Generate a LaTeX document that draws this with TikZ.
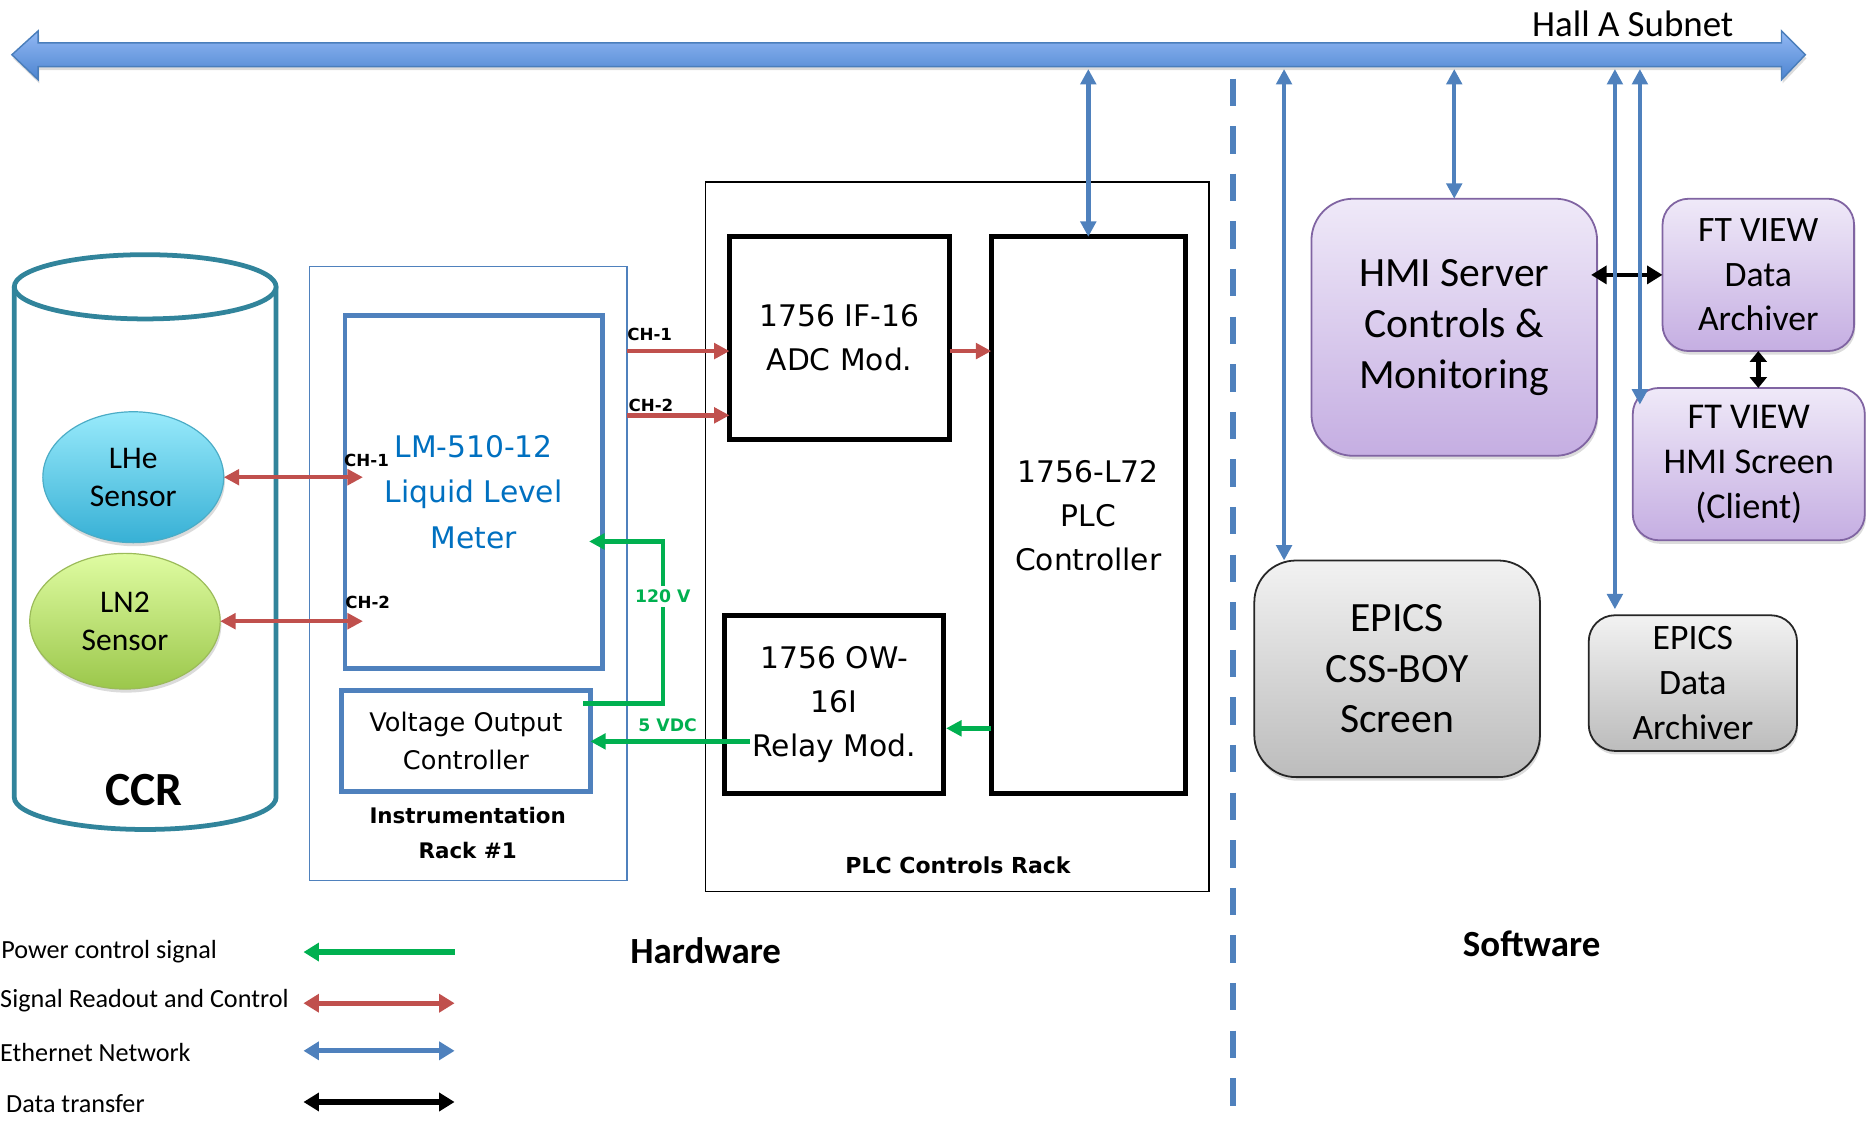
\documentclass[tikz,border=0pt]{standalone}
\usepackage{fontspec}
\setmainfont{Carlito}
\newfontfamily\vfont{DejaVu Sans}
\usetikzlibrary{arrows.meta,calc,shadows,shapes.geometric}
\newcommand\setfs[2]{\fontsize{#1}{#2}\selectfont}
\definecolor{ethc}{HTML}{4F81BD}
\definecolor{busT}{HTML}{92B8F4}
\definecolor{busB}{HTML}{4D85D0}
\definecolor{busE}{HTML}{4A7EBB}
\definecolor{redc}{HTML}{C0504D}
\definecolor{grnc}{HTML}{00B050}
\definecolor{lmtext}{HTML}{0070C0}
\definecolor{ccrc}{HTML}{31849B}
\definecolor{purE}{HTML}{8064A2}
\definecolor{purT}{HTML}{EFE9F8}
\definecolor{purB}{HTML}{C5AEE2}
\definecolor{gryT}{HTML}{F2F2F2}
\definecolor{gryB}{HTML}{BCBCBC}
\definecolor{cyT}{HTML}{98EAFB}
\definecolor{cyB}{HTML}{37B0D5}
\definecolor{cyE}{HTML}{4BACC6}
\definecolor{gnT}{HTML}{DFFCA2}
\definecolor{gnB}{HTML}{9BC74B}
\definecolor{gnE}{HTML}{9BBB59}
\begin{document}
\begin{tikzpicture}[x=1pt,y=-1pt,
  >={Triangle[length=13pt,width=13pt]},
  shd/.style={drop shadow={opacity=0.28,shadow xshift=1pt,shadow yshift=-3pt}},
  hwbox/.style={draw=black,line width=4pt,inner sep=0pt,outer sep=0pt,align=center,font=\vfont\setfs{25}{37}},
  rack/.style={line width=1.2pt,inner sep=0pt,outer sep=0pt},
  lmbox/.style={draw=ethc,line width=4pt,inner sep=0pt,outer sep=0pt,align=center},
  purbox/.style={shd,draw=purE,line width=1.5pt,top color=purT,bottom color=purB,inner sep=0pt,outer sep=0pt,align=center},
  grybox/.style={shd,draw=black!85,line width=1.5pt,top color=gryT,bottom color=gryB,inner sep=0pt,outer sep=0pt,align=center},
  sensor/.style={shd,ellipse,line width=1pt,inner sep=0pt,outer sep=0pt,align=center,font=\setfs{26.5}{32}},
  redarr/.style={draw=redc,line width=3.7pt},
  garr/.style={draw=grnc,line width=3.7pt},
  eth/.style={draw=ethc,line width=3.7pt},
  blk/.style={draw=black,line width=3.7pt,>={Triangle[length=13pt,width=15pt]}},
  leg/.style={line width=4.3pt,>={Triangle[length=13pt,width=15pt]}},
  chl/.style={font=\vfont\bfseries\setfs{14}{16},inner sep=0pt},
  glab/.style={text=grnc,fill=white,font=\vfont\bfseries\setfs{14.5}{16},inner sep=3pt},
  lgt/.style={font=\setfs{22}{26},inner sep=0pt,anchor=west},
  big/.style={font=\bfseries\setfs{31}{36}}
]
\useasboundingbox (0,0) rectangle (1568,944);

% ---- Hall A Subnet bus
\path[shd,top color=busT,bottom color=busB,draw=busE,line width=1.2pt]
  (10,46) -- (32,26) -- (32,36) -- (1497,36) -- (1497,26) -- (1517,46) -- (1497,67) -- (1497,56) -- (32,56) -- (32,67) -- cycle;
\coordinate (busb) at (0,58);
\node[font=\setfs{31}{37}] (hall) at (1372,20) {Hall A Subnet};

% ---- divider
\coordinate (divtop) at (1036,66);
\coordinate (divbot) at (1036,944);
\draw[ethc,line width=4.5pt,dash pattern=on 23pt off 17pt] (divtop) -- (divbot);

% ---- CCR cylinder
\fill[white] (12,241) -- (12,670) arc[start angle=180,end angle=0,x radius=110,y radius=27] -- (232,241) -- cycle;
\draw[ccrc,line width=4pt] (12,241) -- (12,670) arc[start angle=180,end angle=0,x radius=110,y radius=27] -- (232,241);
\draw[ccrc,line width=4pt,fill=white] (122,241) ellipse[x radius=110,y radius=27];
\node[font=\bfseries\setfs{40}{44}] (ccr) at (121,664) {CCR};

\node[sensor,draw=cyE,top color=cyT,bottom color=cyB,minimum width=152pt,minimum height=110pt] (lhe) at (112,401) {LHe\\Sensor};
\node[sensor,draw=gnE,top color=gnT,bottom color=gnB,minimum width=160pt,minimum height=114pt] (ln2) at (105,522) {LN2\\Sensor};

% ---- Instrumentation rack
\node[rack,draw=ethc,minimum width=267pt,minimum height=516pt] (irack) at (393.5,482) {};
\node[lmbox,minimum width=216pt,minimum height=297pt,text=lmtext,font=\vfont\setfs{25}{38}] (lm) at (398,413.5) {LM-510-12\\Liquid Level\\Meter};
\node[lmbox,minimum width=209pt,minimum height=85pt,font=\vfont\setfs{21.5}{32}] (voc) at (391.5,622.5) {Voltage Output\\Controller};
\node[font=\vfont\bfseries\setfs{18}{29},align=center] (irlab) at (393,700) {Instrumentation\\Rack \#1};

% ---- PLC rack
\node[rack,draw=black,minimum width=423pt,minimum height=596pt] (prack) at (804.5,451) {};
\node[hwbox,minimum width=185pt,minimum height=170pt] (adc) at (705.5,284) {1756 IF-16\\ADC Mod.};
\node[hwbox,minimum width=184pt,minimum height=150pt] (relay) at (701,592) {1756 OW-\\16I\\Relay Mod.};
\node[hwbox,minimum width=163pt,minimum height=468pt] (plc) at (914.5,433) {1756-L72\\PLC\\Controller};
\node[font=\vfont\bfseries\setfs{18.5}{22}] (prlab) at (805,727) {PLC Controls Rack};

% ---- Software boxes
\node[purbox,rounded corners=35pt,minimum width=240pt,minimum height=216pt,font=\setfs{35}{43}] (hmi) at (1222,275) {HMI Server\\Controls \&\\Monitoring};
\node[purbox,rounded corners=22pt,minimum width=161pt,minimum height=128pt,font=\setfs{30}{37.5}] (ftda) at (1477.5,231) {FT VIEW\\Data\\Archiver};
\node[purbox,rounded corners=22pt,minimum width=195pt,minimum height=128pt,font=\setfs{30.5}{38}] (fthmi) at (1469.5,390) {FT VIEW\\HMI Screen\\(Client)};
\node[grybox,rounded corners=35pt,minimum width=240pt,minimum height=182pt,font=\setfs{35}{42.5}] (epicsboy) at (1174,562) {EPICS\\CSS-BOY\\Screen};
\node[grybox,rounded corners=22pt,minimum width=175pt,minimum height=114pt,font=\setfs{30}{38}] (epicsda) at (1422.5,574) {EPICS\\Data\\Archiver};

% ---- red signal connectors
\draw[redarr,<->] (lhe.east) -- ($(lm.west|-lhe.east)+(15,0)$);
\draw[redarr,<->] (ln2.east) -- ($(lm.west|-ln2.east)+(15,0)$);
\coordinate (ch1y) at (0,295);
\coordinate (ch2y) at (0,349);
\draw[redarr,->] (irack.east|-ch1y) -- (adc.west|-ch1y);
\draw[redarr,->] (irack.east|-ch2y) -- (adc.west|-ch2y);
\draw[redarr,->] (adc.east|-ch1y) -- (plc.west|-ch1y);
\node[chl,anchor=west] (lch1) at (527,281) {CH-1};
\node[chl,anchor=west] (lch2) at (528,341) {CH-2};
\node[chl,anchor=west] (mch1) at (289,387) {CH-1};
\node[chl,anchor=west] (mch2) at (290,506) {CH-2};

% ---- green power connectors
\node[glab] (v120) at (557,501) {120 V};
\draw[garr] ($(voc.north east)+(-6,11)$) -| (v120.south);
\draw[garr,->] (v120.north) |- ($(lm.east)+(-11,41.5)$);
\coordinate (g5) at (630,623);
\draw[garr,->] (g5) -- (voc.east|-g5);
\node[glab,fill=none,inner sep=0pt] (v5) at (561,609) {5 VDC};
\coordinate (g6) at (0,612);
\draw[garr,->] (plc.west|-g6) -- ($(relay.east|-g6)+(2,0)$);

% ---- data transfer
\draw[blk,<->] ($(hmi.east|-ftda.west)+(-5,0)$) -- (ftda.west);
\draw[blk,>={Triangle[length=9pt,width=14pt]},<->] (ftda.south) -- (ftda.south|-fthmi.north);

% ---- ethernet connectors
\draw[eth,<->] (plc.north|-busb) -- (plc.north);
\coordinate (e2) at (1079,0);
\draw[eth,<->] (e2|-busb) -- (e2|-epicsboy.north);
\draw[eth,<->] (hmi.north|-busb) -- (hmi.north);
\coordinate (e4) at (1357,0);
\draw[eth,<->] (e4|-busb) -- ($(e4|-epicsda.north)+(0,-5)$);
\coordinate (e5) at (1378,0);
\draw[eth,<->] (e5|-busb) -- ($(e5|-fthmi.north)+(0,14)$);

% ---- section labels
\node[big] (hw) at (593,799) {Hardware};
\node[big] (sw) at (1287,793) {Software};

% ---- legend
\node[lgt] (l1) at (1,800) {Power control signal};
\node[lgt] (l2) at (0,841) {Signal Readout and Control};
\node[lgt] (l3) at (0,884) {Ethernet Network};
\node[lgt] (l4) at (5,927) {Data transfer};
\coordinate (a1l) at (255,800); \coordinate (a1r) at (382,800);
\coordinate (a2l) at (255,843); \coordinate (a2r) at (382,843);
\coordinate (a3l) at (255,883); \coordinate (a3r) at (382,883);
\coordinate (a4l) at (255,926); \coordinate (a4r) at (382,926);
\draw[garr,leg,->] (a1r) -- (a1l);
\draw[redarr,leg,<->] (a2l) -- (a2r);
\draw[eth,leg,<->] (a3l) -- (a3r);
\draw[blk,leg,<->] (a4l) -- (a4r);
\end{tikzpicture}
\end{document}
